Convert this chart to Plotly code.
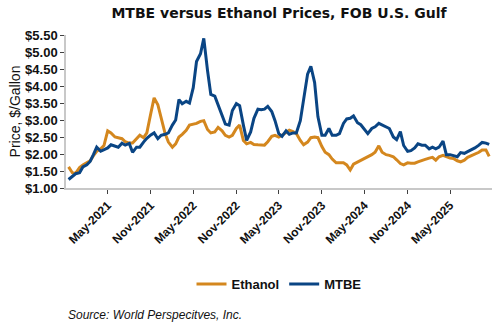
import pandas as pd
import plotly.graph_objects as go

# Semi-monthly price observations, FOB U.S. Gulf ($/gallon)
dates = pd.date_range("2020-11-15", "2025-10-15", freq="SMS")

ethanol = [
    1.62, 1.45, 1.43, 1.60, 1.68, 1.75, 1.80, 1.95, 2.08, 2.15,
    2.25, 2.68, 2.62, 2.50, 2.48, 2.45, 2.36, 2.32, 2.32, 2.45,
    2.55, 2.48, 2.62, 3.20, 3.65, 3.45, 3.10, 2.60, 2.35, 2.20,
    2.30, 2.50, 2.58, 2.70, 2.85, 2.88, 2.90, 2.96, 2.98, 2.72,
    2.62, 2.65, 2.78, 2.68, 2.55, 2.50, 2.55, 2.75, 2.85, 2.40,
    2.30, 2.34, 2.28, 2.27, 2.27, 2.26, 2.36, 2.52, 2.55, 2.50,
    2.55, 2.62, 2.70, 2.66, 2.60, 2.40, 2.27, 2.35, 2.48, 2.50,
    2.48, 2.22, 2.05, 1.98, 1.85, 1.74, 1.75, 1.74, 1.68, 1.53,
    1.70, 1.76, 1.82, 1.88, 1.92, 1.98, 2.05, 2.24, 2.05, 1.98,
    1.96, 1.92, 1.83, 1.72, 1.68, 1.74, 1.73, 1.73, 1.77, 1.80,
    1.84, 1.88, 1.90, 1.82, 1.92, 1.96, 1.92, 1.88, 1.87, 1.80,
    1.77, 1.82, 1.90, 1.95, 1.98, 2.05, 2.12, 2.12, 1.93,
]

mtbe = [
    1.25, 1.35, 1.42, 1.45, 1.62, 1.68, 1.78, 1.98, 2.20, 2.08,
    2.12, 2.18, 2.27, 2.24, 2.20, 2.32, 2.26, 2.31, 2.05, 2.20,
    2.20, 2.35, 2.46, 2.56, 2.62, 2.45, 2.55, 2.58, 2.62, 2.85,
    3.00, 3.60, 3.48, 3.55, 3.50, 3.95, 4.72, 4.95, 5.40, 4.45,
    3.75, 3.70, 3.45, 3.12, 2.88, 2.85, 3.28, 3.48, 3.42, 2.85,
    2.40, 2.65, 3.05, 3.32, 3.30, 3.32, 3.40, 3.25, 2.98, 2.60,
    2.52, 2.68, 2.58, 2.62, 2.62, 2.98, 3.60, 4.35, 4.58, 4.10,
    3.10, 2.55, 2.55, 2.75, 2.55, 2.55, 2.60, 2.90, 3.03, 3.05,
    3.12, 2.92, 2.86, 2.72, 2.60, 2.75, 2.80, 2.90, 2.85, 2.80,
    2.75, 2.50, 2.42, 2.66, 2.25, 2.08, 2.10, 2.18, 2.30, 2.26,
    2.26, 2.15, 2.20, 2.15, 2.20, 2.38, 1.98, 1.98, 1.95, 1.92,
    2.04, 2.02, 2.07, 2.12, 2.18, 2.26, 2.34, 2.32, 2.28,
]

x_ticks = pd.date_range("2021-05-01", "2025-05-01", freq="6MS")
y_ticks = [1.0, 1.5, 2.0, 2.5, 3.0, 3.5, 4.0, 4.5, 5.0, 5.5]

ETHANOL_COLOR = "#D4871E"
MTBE_COLOR = "#0A4584"
FONT = "Liberation Sans, Arial, sans-serif"
TITLE_FONT = "DejaVu Sans, Liberation Sans, sans-serif"

fig = go.Figure()
fig.add_trace(go.Scatter(x=dates, y=ethanol, name="Ethanol", mode="lines",
                         line=dict(color=ETHANOL_COLOR, width=3)))
fig.add_trace(go.Scatter(x=dates, y=mtbe, name="MTBE", mode="lines",
                         line=dict(color=MTBE_COLOR, width=3)))

fig.update_layout(
    width=500, height=330,
    margin=dict(l=66, r=8, t=35, b=142),
    paper_bgcolor="white", plot_bgcolor="white",
    font=dict(family=FONT, color="#111111"),
    title=dict(text="MTBE versus Ethanol Prices, FOB U.S. Gulf",
               font=dict(family=TITLE_FONT, size=14, color="#111111", weight="bold"),
               x=0.5, xanchor="center", xref="paper", y=0.96, yanchor="middle",
               yref="container"),
    legend=dict(orientation="h", x=0.5, xanchor="center", y=-0.627, yanchor="middle",
                font=dict(family=FONT, size=13, color="#111111", weight="bold"),
                itemwidth=30, tracegroupgap=0, bgcolor="rgba(0,0,0,0)"),
    showlegend=True,
)

fig.update_xaxes(
    range=["2020-11-04", "2025-10-27"],
    tickvals=x_ticks, tickformat="%b-%Y", tickangle=-45,
    tickfont=dict(family=FONT, size=12, color="#111111", weight="bold"),
    showgrid=False, zeroline=False,
    showline=True, linecolor="#C8C8C8", linewidth=1.5,
    ticks="outside", ticklen=4, tickcolor="#404040", tickwidth=1,
)

fig.update_yaxes(
    range=[1.0, 5.5],
    tickvals=y_ticks, tickformat="$.2f",
    tickfont=dict(family=FONT, size=13, color="#111111", weight="bold"),
    title=dict(text="Price, $/Gallon", font=dict(family=FONT, size=14, color="#111111"),
               standoff=1),
    showgrid=False, zeroline=False,
    showline=True, linecolor="#C8C8C8", linewidth=1.5,
    ticks="outside", ticklen=4, tickcolor="#404040", tickwidth=1,
)

fig.add_annotation(text="Source: World Perspecitves, Inc.", xref="paper", yref="paper",
                   x=0.0, xanchor="left", y=-0.83, yanchor="middle", showarrow=False,
                   font=dict(family=FONT, size=12, color="#111111", style="italic"))

fig.write_html("out.html")
